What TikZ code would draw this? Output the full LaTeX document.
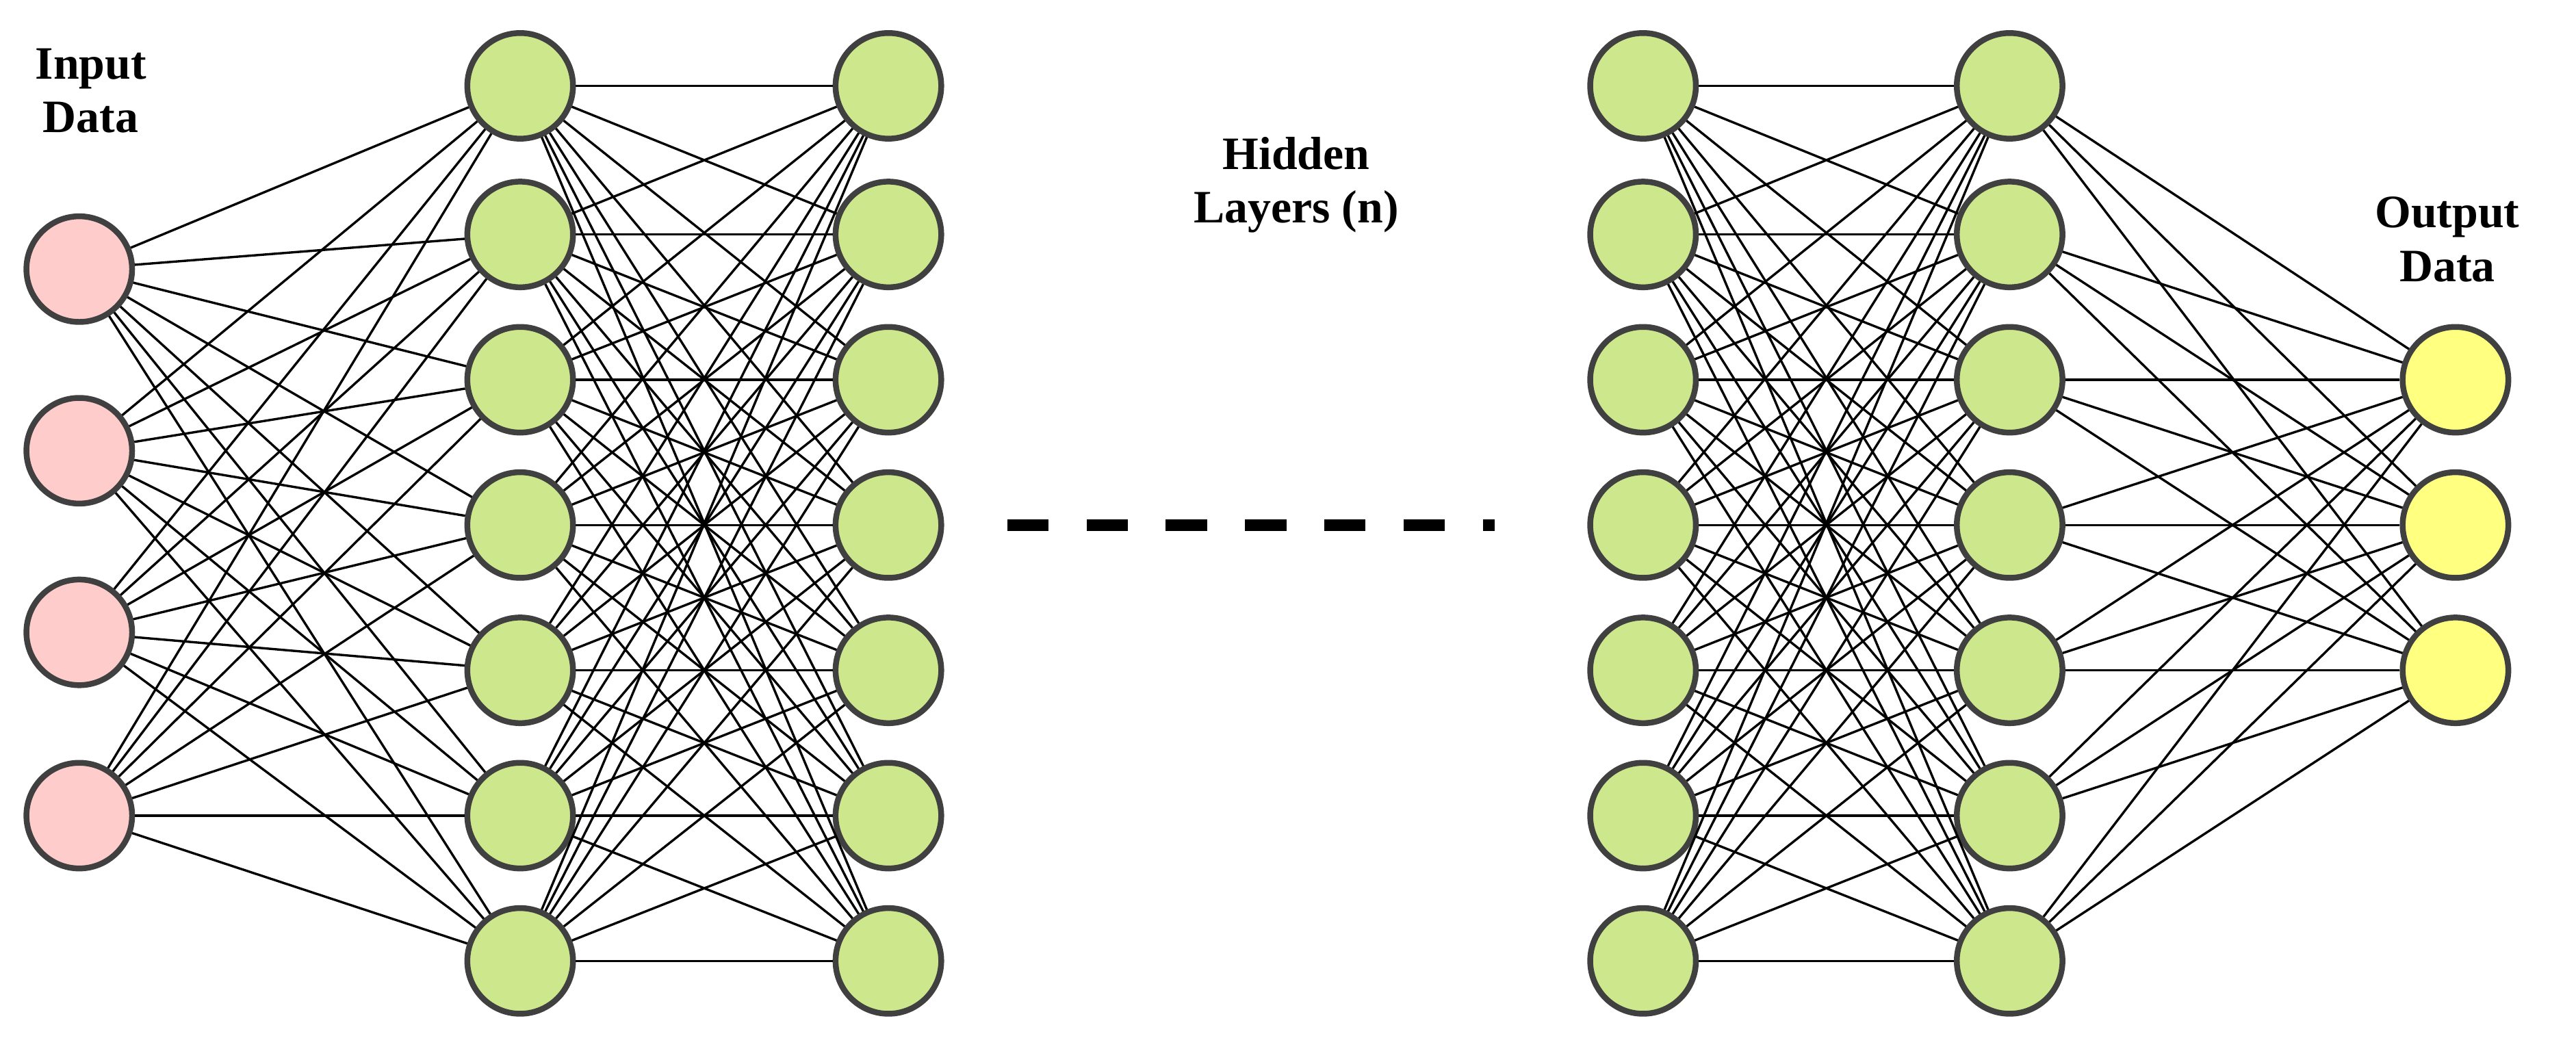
\documentclass[tikz,border=0pt]{standalone}
\usepackage{fontspec}
\setmainfont{Liberation Serif}
\definecolor{pinkc}{HTML}{FFCCCC}
\definecolor{greenc}{HTML}{CDE78C}
\definecolor{yellowc}{HTML}{FFFF80}
\definecolor{rimc}{HTML}{404040}
\begin{document}
\begin{tikzpicture}[x=0.05cm,y=-0.05cm,
  neuron/.style={circle,draw=rimc,line width=5pt,minimum size=3.2cm,inner sep=0pt},
  inp/.style={neuron,fill=pinkc},
  hid/.style={neuron,fill=greenc},
  outp/.style={neuron,fill=yellowc},
  edge/.style={black,line width=2pt},
  lbl/.style={font=\fontsize{40}{46}\selectfont\bfseries,align=center}]
\useasboundingbox (0,0) rectangle (1560,635);
\foreach \i/\y in {1/163,2/273,3/383,4/494} \node[inp] (a\i) at (48,\y) {};
\foreach \i/\y in {1/52,2/142,3/230,4/318,5/406,6/494,7/582}{
  \node[hid] (b\i) at (315,\y) {};
  \node[hid] (c\i) at (538,\y) {};
  \node[hid] (d\i) at (995,\y) {};
  \node[hid] (e\i) at (1217,\y) {};
}
\foreach \i/\y in {1/230,2/318,3/406} \node[outp] (f\i) at (1487,\y) {};
\begin{scope}[on background layer/.try]
\end{scope}
\foreach \i in {1,...,4}\foreach \j in {1,...,7} \draw[edge] (a\i) -- (b\j);
\foreach \i in {1,...,7}\foreach \j in {1,...,7} {\draw[edge] (b\i) -- (c\j); \draw[edge] (d\i) -- (e\j);}
\foreach \i in {1,...,7}\foreach \j in {1,...,3} \draw[edge] (e\i) -- (f\j);
\coordinate (ds) at (610,318); \coordinate (de) at (905,318);
\draw[line width=0.35cm,dash pattern=on 1.25cm off 1.15cm] (ds) -- (de);
\node[lbl] (t1) at (55,55) {Input\\Data};
\node[lbl] (t2) at (785,112) {Hidden\\Layers (n)};
\node[lbl] (t3) at (1482,145) {Output\\Data};
\end{tikzpicture}
\end{document}
